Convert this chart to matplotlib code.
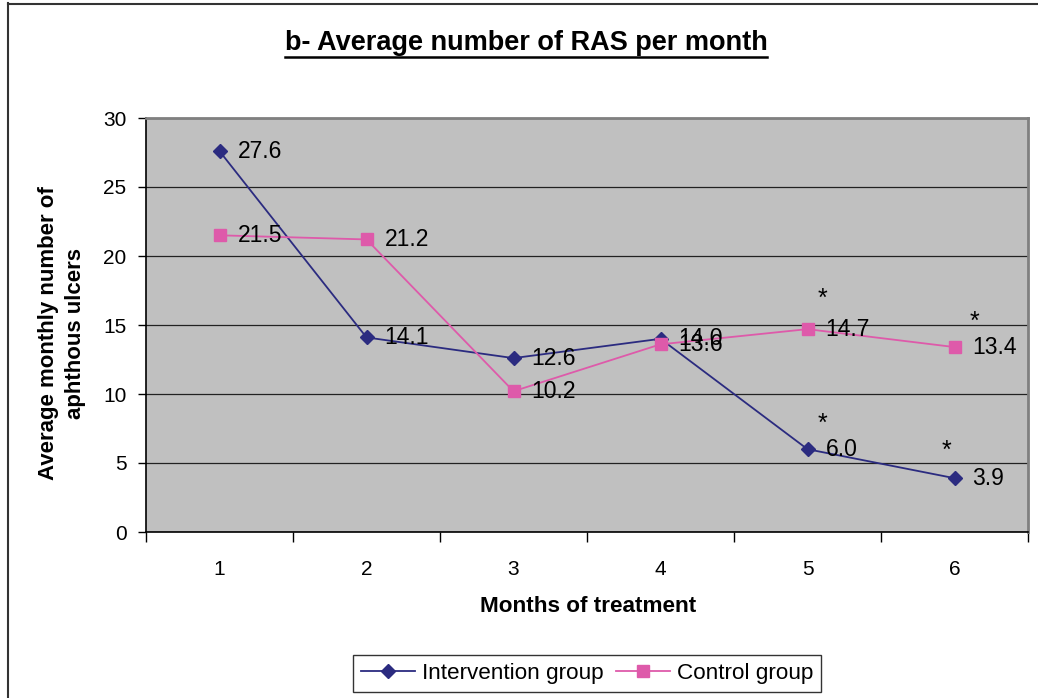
import matplotlib
matplotlib.use("Agg")
import matplotlib.pyplot as plt
from matplotlib.lines import Line2D

months = [1, 2, 3, 4, 5, 6]
month_labels = ["1", "2", "3", "4", "5", "6"]
intervention = [27.6, 14.1, 12.6, 14.0, 6.0, 3.9]
control = [21.5, 21.2, 10.2, 13.6, 14.7, 13.4]
# significance markers: month indices
sig_intervention = [4, 5]
sig_control = [4, 5]

plt.rcParams['font.family'] = ['Liberation Sans', 'DejaVu Sans']

W, H = 1038, 698
fig = plt.figure(figsize=(W / 100, H / 100), dpi=100)

def fx(px):
    return px / W

def fy(py):
    return 1 - py / H

# outer frame (left and top visible)
fig.add_artist(Line2D([fx(8), fx(8)], [fy(3), 0], color='#333333', lw=1.5, transform=fig.transFigure))
fig.add_artist(Line2D([fx(8), 1], [fy(3.5), fy(3.5)], color='#333333', lw=1.5, transform=fig.transFigure))

ax = fig.add_axes([fx(146), fy(532), fx(1028) - fx(146), (532 - 118) / H])
ax.set_facecolor('#C0C0C0')

navy = '#2B2B80'
pink = '#DE5AAA'

ax.plot(months, intervention, color=navy, lw=1.3, marker='D', ms=7.5,
        markerfacecolor=navy, markeredgecolor=navy, label='Intervention group', zorder=3)
ax.plot(months, control, color=pink, lw=1.3, marker='s', ms=8.5,
        markerfacecolor=pink, markeredgecolor=pink, label='Control group', zorder=3)

for x, v in zip(months, intervention):
    ax.annotate(f"{v:.1f}", (x, v), xytext=(18, 0), textcoords='offset pixels',
                ha='left', va='center', fontsize=16.5, color='black', zorder=4)
for x, v in zip(months, control):
    ax.annotate(f"{v:.1f}", (x, v), xytext=(18, 0), textcoords='offset pixels',
                ha='left', va='center', fontsize=16.5, color='black', zorder=4)

star_offsets_c = {4: (15, 30), 5: (20, 25)}
star_offsets_i = {4: (15, 25), 5: (-8, 27)}
for i in sig_control:
    dx, dy = star_offsets_c[i]
    ax.annotate("*", (months[i], control[i]), xytext=(dx, dy), textcoords='offset pixels',
                ha='center', va='center', fontsize=18, zorder=4)
for i in sig_intervention:
    dx, dy = star_offsets_i[i]
    ax.annotate("*", (months[i], intervention[i]), xytext=(dx, dy), textcoords='offset pixels',
                ha='center', va='center', fontsize=18, zorder=4)

ax.set_xlim(0.5, 6.5)
ax.set_ylim(0, 30)
ax.set_yticks([0, 5, 10, 15, 20, 25, 30])
ax.set_yticklabels(["0", "5", "10", "15", "20", "25", "30"], fontsize=15)
ax.yaxis.grid(True, color='#222222', lw=0.9)
ax.set_axisbelow(True)

ax.set_xticks([0.5, 1.5, 2.5, 3.5, 4.5, 5.5, 6.5])
ax.set_xticklabels([])
ax.set_xticks(months, minor=True)
ax.set_xticklabels(month_labels, minor=True, fontsize=15)
ax.tick_params(axis='x', which='minor', length=0, pad=20)
ax.tick_params(axis='x', which='major', length=7, width=1, direction='out')
ax.tick_params(axis='y', length=6, width=1, direction='out', pad=8)

for s in ['left', 'bottom']:
    ax.spines[s].set_color('black')
    ax.spines[s].set_linewidth(1.2)
for s in ['top', 'right']:
    ax.spines[s].set_color('#808080')
    ax.spines[s].set_linewidth(2)

fig.text(fx(588), fy(607), "Months of treatment", ha='center', va='center',
         fontsize=16.2, fontweight='bold')
fig.text(fx(62), fy(333), "Average monthly number of\naphthous ulcers", rotation=90,
         ha='center', va='center', fontsize=16, fontweight='bold', linespacing=1.4)

title = fig.text(fx(526), fy(43), "b- Average number of RAS per month", ha='center', va='center',
                 fontsize=19.5, fontweight='bold')

leg = fig.legend(loc='center', bbox_to_anchor=(fx(587), fy(673.5)), ncol=2, fontsize=16.2,
                 frameon=True, fancybox=False, edgecolor='black', handlelength=2.4,
                 handletextpad=0.3, columnspacing=0.55, borderpad=0.35, borderaxespad=0)
leg.get_frame().set_linewidth(1.0)

fig.canvas.draw()
bb = title.get_window_extent()
inv = fig.transFigure.inverted()
(x0, y0), (x1, y1) = inv.transform([(bb.x0, bb.y0), (bb.x1, bb.y0)])
fig.add_artist(Line2D([x0, x1], [y0 - 0.002, y0 - 0.002], color='black', lw=1.8, transform=fig.transFigure))

fig.savefig("out.png", dpi=100)
